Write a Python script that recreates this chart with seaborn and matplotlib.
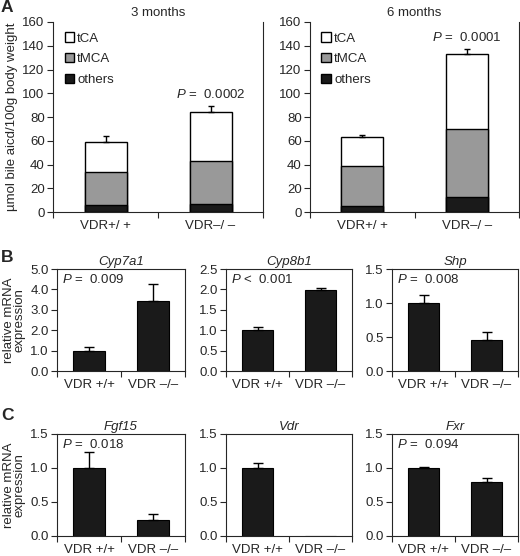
import numpy as np
import matplotlib
matplotlib.use("Agg")
import matplotlib.pyplot as plt
import seaborn as sns
from matplotlib.patches import Patch

# Panel A: bile acid pools (stacked), in umol/100g body weight
a_groups = ["VDR+/ +", "VDR\u2013/ \u2013"]
a_titles = ["3 months", "6 months"]
a_others = [[6, 7], [5, 13]]
a_tmca = [[28, 36], [34, 57]]
a_tca = [[25, 41], [24, 63]]
a_err = [[5, 5], [2, 4]]
a_pvals = ["0.0002", "0.0001"]

# Panels B and C: relative mRNA expression
mrna_groups = ["VDR +/+", "VDR \u2013/\u2013"]
b_genes = ["Cyp7a1", "Cyp8b1", "Shp"]
b_means = [[1.0, 3.45], [1.0, 1.98], [1.0, 0.46]]
b_errs = [[0.2, 0.82], [0.09, 0.05], [0.12, 0.11]]
b_ylims = [5.0, 2.5, 1.5]
b_steps = [1.0, 0.5, 0.5]
b_pvals = ["P =  0.009", "P <  0.001", "P =  0.008"]

c_genes = ["Fgf15", "Vdr", "Fxr"]
c_means = [[1.0, 0.23], [1.0, 0.0], [1.0, 0.8]]
c_errs = [[0.23, 0.1], [0.07, np.nan], [0.02, 0.05]]
c_pvals = ["P =  0.018", None, "P =  0.094"]

sns.set_style("ticks")
plt.rcParams["font.family"] = ["Liberation Sans", "DejaVu Sans"]
plt.rcParams["mathtext.fontset"] = "custom"
plt.rcParams["mathtext.it"] = "Liberation Sans:italic"
plt.rcParams["mathtext.rm"] = "Liberation Sans"
plt.rcParams["axes.linewidth"] = 0.8

FS = 9.5
W, H = 520, 556
fig = plt.figure(figsize=(W / 100, H / 100), dpi=100)


def add_ax(x0, x1, y0, y1):
    return fig.add_axes([x0 / W, 1 - y1 / H, (x1 - x0) / W, (y1 - y0) / H])


def cat_ticks(ax):
    ax.set_xlim(-0.5, 1.5)
    ax.set_xticks([0, 1])
    ax.set_xticks([-0.5, 0.5, 1.5], minor=True)
    ax.tick_params(axis="x", which="major", length=0, pad=6, labelsize=FS)
    ax.tick_params(axis="x", which="minor", length=4, width=0.8, direction="out")
    ax.tick_params(axis="y", length=4, width=0.8, direction="out", labelsize=FS, pad=2)
    ax.set_xlabel("")
    ax.set_ylabel("")


def p_text(s):
    # italic P followed by the rest in upright text
    return "$P$" + s[1:]


dark = "#1a1a1a"
gray = "#999999"

# ---- Panel A
a_axes = [add_ax(53, 263, 22, 212), add_ax(310, 519, 22, 212)]
for i, ax in enumerate(a_axes):
    oth = np.array(a_others[i])
    mid = oth + np.array(a_tmca[i])
    tot = mid + np.array(a_tca[i])
    sns.barplot(x=a_groups, y=tot, color="white", edgecolor="black", linewidth=1.0,
                width=0.4, saturation=1, ax=ax)
    sns.barplot(x=a_groups, y=mid, color=gray, edgecolor="black", linewidth=1.0,
                width=0.4, saturation=1, ax=ax)
    sns.barplot(x=a_groups, y=oth, color=dark, edgecolor="black", linewidth=1.0,
                width=0.4, saturation=1, ax=ax)
    ax.errorbar([0, 1], tot, yerr=[[0, 0], a_err[i]], fmt="none", ecolor="black",
                elinewidth=1.0, capsize=2.5, capthick=1.0)
    ax.set_ylim(0, 160)
    ax.set_yticks(range(0, 161, 20))
    cat_ticks(ax)
    sns.despine(ax=ax, top=True, right=False)
    ax.set_title(a_titles[i], fontsize=FS, pad=4)
    ptop = tot[1] + a_err[i][1] + 10
    ax.text(1, ptop, p_text("P =  " + a_pvals[i]), ha="center", va="center", fontsize=FS)
    handles = [Patch(facecolor="white", edgecolor="black", label="tCA"),
               Patch(facecolor=gray, edgecolor="black", label="tMCA"),
               Patch(facecolor=dark, edgecolor="black", label="others")]
    ax.legend(handles=handles, loc="upper left", bbox_to_anchor=(0.055, 0.945),
              frameon=False, handlelength=0.7, handleheight=0.7,
              handletextpad=0.25, labelspacing=0.65, borderpad=0, borderaxespad=0,
              fontsize=FS)

a_axes[0].set_ylabel("\u00b5mol bile aicd/100g body weight", fontsize=FS, labelpad=3)


# ---- Panels B and C
def mrna_row(y0, y1, genes, means, errs, pvals, ylims, steps):
    xs = [(57, 185), (226, 352), (392, 518)]
    axes = []
    for j, (x0, x1) in enumerate(xs):
        ax = add_ax(x0, x1, y0, y1)
        sns.barplot(x=mrna_groups, y=means[j], color=dark, edgecolor="black",
                    linewidth=0.8, width=0.5, saturation=1, ax=ax)
        e = np.array(errs[j], dtype=float)
        ok = ~np.isnan(e)
        ax.errorbar(np.arange(2)[ok], np.array(means[j])[ok],
                    yerr=[np.zeros(ok.sum()), e[ok]], fmt="none", ecolor="black",
                    elinewidth=1.0, capsize=3.5, capthick=1.0)
        ticks = np.arange(0, ylims[j] + 1e-9, steps[j])
        ax.set_ylim(0, ylims[j])
        ax.set_yticks(ticks)
        ax.set_yticklabels([f"{v:.1f}" for v in ticks])
        cat_ticks(ax)
        for s in ax.spines.values():
            s.set_visible(True)
            s.set_linewidth(0.8)
        ax.set_title(genes[j], fontsize=FS, style="italic", pad=3)
        if pvals[j]:
            ax.text(0.04, 0.895, p_text(pvals[j]), transform=ax.transAxes,
                    ha="left", va="center", fontsize=FS)
        axes.append(ax)
    axes[0].set_ylabel("relative mRNA\nexpression", fontsize=FS, labelpad=3,
                       linespacing=0.9)
    return axes


mrna_row(269, 371, b_genes, b_means, b_errs, b_pvals, b_ylims, b_steps)
mrna_row(434, 536, c_genes, c_means, c_errs, c_pvals, [1.5, 1.5, 1.5], [0.5, 0.5, 0.5])

for letter, y in [("A", 8), ("B", 258), ("C", 416)]:
    fig.text(1 / W, 1 - y / H, letter, fontsize=12.5, fontweight="bold",
             ha="left", va="center")

fig.savefig("out.png", dpi=100)
